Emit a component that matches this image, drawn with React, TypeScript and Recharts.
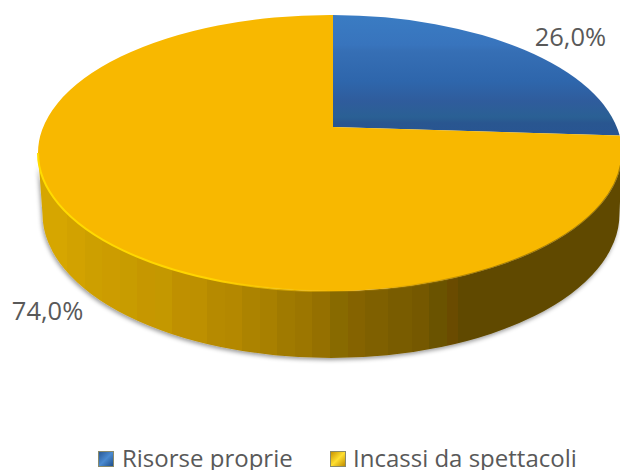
import React from "react";
import { PieChart, Pie, Legend } from "recharts";

const categories = ["Risorse proprie", "Incassi da spettacoli"];
const shares = [26, 74];
const topFills = ["url(#blueTop)", "#f8b800"];
const swatches = [
  "linear-gradient(135deg,#2a5a96 0%,#4a8ad0 50%,#1f4f8c 100%)",
  "linear-gradient(135deg,#c99400 0%,#ffdf30 50%,#c08c00 100%)",
];
const rows = categories.map((name, i) => ({ name, value: shares[i], fill: topFills[i] }));

const FONT = "'Open Sans', sans-serif";
const RAD = Math.PI / 180;
const wallBands: [number, string][] = [
  [0, "#d6a600"], [0.05, "#d2a200"], [0.08, "#cd9f00"], [0.11, "#cc9c00"], [0.14, "#c89c00"],
  [0.17, "#c69700"], [0.2, "#c49800"], [0.23, "#bf9000"], [0.26, "#bd9000"], [0.29, "#b68a00"],
  [0.32, "#b48800"], [0.35, "#ac8300"], [0.38, "#a88000"], [0.41, "#a07a00"], [0.44, "#9c7600"],
  [0.47, "#957000"], [0.5, "#886a00"], [0.53, "#856300"], [0.56, "#7f6000"], [0.6, "#795b00"],
  [0.64, "#745800"], [0.67, "#6a5200"], [0.7, "#6a4c00"], [0.72, "#604a00"], [1, "#5f4900"],
];
const blueBands: [number, string][] = [
  [0, "#3a7cc3"], [0.25, "#3874bd"], [0.3, "#366fb5"], [0.55, "#2e66ac"], [0.72, "#2f5c9c"],
  [0.85, "#2a6094"], [0.9, "#295690"], [1, "#285592"],
];

type G = { cx: number; cy: number; r: number };
const topEllipse = ({ cx, cy, r }: G) => ({ x: cx - 3, y: cy + 26, rx: r, ry: r * 0.473 });
const baseEllipse = ({ cx, cy, r }: G) => ({ x: cx - 2, y: cy + 87, rx: r * 0.988, ry: r * 0.493 });

// Where the ray of a pie angle (Recharts degrees) leaves the tilted top ellipse.
const rim = (g: G, angle: number) => {
  const e = topEllipse(g);
  const dx = Math.cos(angle * RAD);
  const dy = -Math.sin(angle * RAD) / 2.1;
  const px = (g.cx - e.x) / e.rx, py = (g.cy - e.y) / e.ry;
  const qx = dx / e.rx, qy = dy / e.ry;
  const A = qx * qx + qy * qy, B = 2 * (px * qx + py * qy), C = px * px + py * py - 1;
  const t = (-B + Math.sqrt(B * B - 4 * A * C)) / (2 * A);
  return { x: g.cx + dx * t, y: g.cy + dy * t };
};
const param = (g: G, p: { x: number; y: number }) => {
  const e = topEllipse(g);
  return Math.atan2((p.y - e.y) / e.ry, (p.x - e.x) / e.rx);
};
const at = (e: { x: number; y: number; rx: number; ry: number }, t: number) =>
  `${(e.x + e.rx * Math.cos(t)).toFixed(2)} ${(e.y + e.ry * Math.sin(t)).toFixed(2)}`;

const Slab = (props: any) => {
  const g: G = { cx: props.cx, cy: props.cy, r: props.outerRadius };
  const e = topEllipse(g);
  const b = baseEllipse(g);
  const p0 = rim(g, props.startAngle);
  const p1 = rim(g, props.endAngle);
  let t0 = param(g, p0);
  let t1 = param(g, p1);
  if (t1 < t0) t1 += Math.PI * 2;
  const large = t1 - t0 > Math.PI ? 1 : 0;
  const top = `M${g.cx} ${g.cy}L${p0.x} ${p0.y}A${e.rx} ${e.ry} 0 ${large} 1 ${p1.x} ${p1.y}Z`;
  const w0 = Math.max(t0, 0);
  const w1 = Math.min(t1, Math.PI);
  const hasWall = w1 > w0;
  const wall = hasWall
    ? `M${at(e, w0)}A${e.rx} ${e.ry} 0 0 1 ${at(e, w1)}L${at(b, w1)}A${b.rx} ${b.ry} 0 0 0 ${at(b, w0)}Z`
    : "";
  const rimEdge = hasWall ? `M${at(e, w0)}A${e.rx} ${e.ry} 0 0 1 ${at(e, w1)}` : "";
  return (
    <g>
      {hasWall && <path d={wall} fill="url(#wallBands)" filter="url(#slabShadow)" />}
      <path d={top} fill={props.fill} />
      {hasWall && <path d={rimEdge} fill="none" stroke="url(#rimGlow)" strokeWidth={2} />}
    </g>
  );
};

const labelNudges = [
  { x: 56, y: -10 },
  { x: -46, y: 76 },
];
const SliceLabel = (props: any) => {
  const g: G = { cx: props.cx, cy: props.cy, r: props.outerRadius };
  const p = rim(g, props.midAngle);
  const n = labelNudges[props.index];
  const text = `${(props.percent * 100).toFixed(1).replace(".", ",")}%`;
  return (
    <text x={p.x + n.x} y={p.y + n.y} textAnchor="middle" dominantBaseline="central" fontFamily={FONT} fontSize={25.5} fill="#595959">
      {text}
    </text>
  );
};

const LegendRow = (props: any) => (
  <div style={{ position: "relative", width: 620, height: 26, fontFamily: FONT, fontSize: 24, color: "#595959" }}>
    {(props.payload || []).map((item: any, i: number) => (
      <React.Fragment key={item.value}>
        <span style={{ position: "absolute", left: i === 0 ? 98 : 330, top: 7, width: 14, height: 14, background: swatches[i], border: "1px solid #8a8a6a", boxSizing: "content-box" }} />
        <span style={{ position: "absolute", left: i === 0 ? 122 : 353, top: 2, lineHeight: "24px", whiteSpace: "nowrap" }}>{item.value}</span>
      </React.Fragment>
    ))}
  </div>
);

export default function App() {
  return (
    <div style={{ position: "absolute", left: 0, top: 0, width: 620, height: 470, background: "#fff", overflow: "hidden" }}>
      <PieChart width={620} height={470} margin={{ top: 0, right: 0, bottom: 0, left: 0 }}>
        <defs>
          <linearGradient id="wallBands" gradientUnits="userSpaceOnUse" x1={38} y1={0} x2={622} y2={0}>
            {wallBands.map(([o, c], i) => {
              const next = wallBands[i + 1];
              return (
                <React.Fragment key={o}>
                  <stop offset={o} stopColor={c} />
                  {next && <stop offset={next[0]} stopColor={c} />}
                </React.Fragment>
              );
            })}
          </linearGradient>
          <linearGradient id="blueTop" gradientUnits="userSpaceOnUse" x1={0} y1={15} x2={0} y2={135}>
            {blueBands.map(([o, c]) => (
              <stop key={o} offset={o} stopColor={c} />
            ))}
          </linearGradient>
          <linearGradient id="rimGlow" gradientUnits="userSpaceOnUse" x1={38} y1={0} x2={622} y2={0}>
            <stop offset={0} stopColor="#ffdc00" />
            <stop offset={0.3} stopColor="#ffd400" />
            <stop offset={0.55} stopColor="#f8b800" stopOpacity={0.2} />
            <stop offset={0.75} stopColor="#5f4900" stopOpacity={0.5} />
            <stop offset={1} stopColor="#5f4900" stopOpacity={0.5} />
          </linearGradient>
          <filter id="slabShadow" x="-5%" y="-10%" width="110%" height="125%">
            <feDropShadow dx={-1} dy={2} stdDeviation={2} floodColor="#000" floodOpacity={0.4} />
          </filter>
        </defs>
        <Pie
          data={rows}
          dataKey="value"
          nameKey="name"
          cx={333}
          cy={127}
          innerRadius={0}
          outerRadius={292}
          startAngle={90}
          endAngle={-270}
          stroke="none"
          isAnimationActive={false}
          shape={Slab}
          label={SliceLabel}
          labelLine={false}
        />
        <Legend itemSorter={null} content={LegendRow} wrapperStyle={{ position: "absolute", left: 0, top: 444, width: 620, height: 26, bottom: "auto" }} />
      </PieChart>
    </div>
  );
}
